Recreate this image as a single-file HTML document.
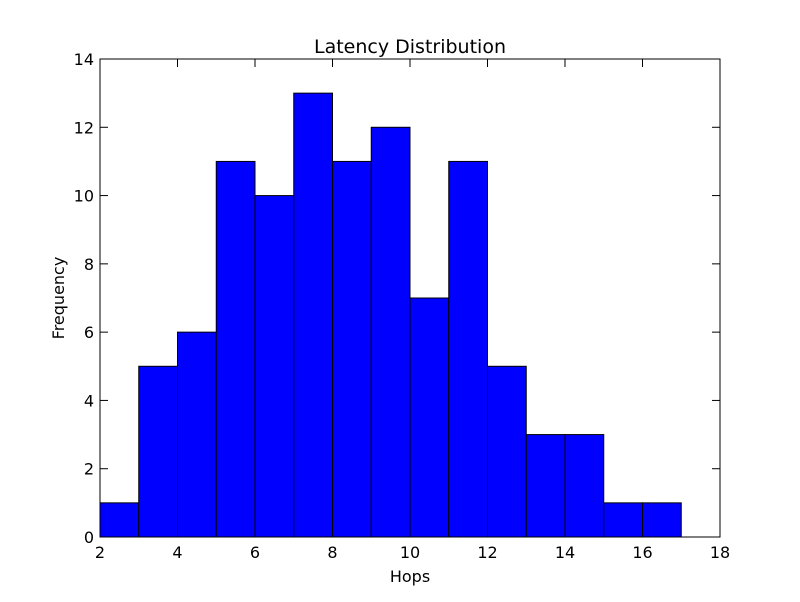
<!DOCTYPE html>
<html><head><meta charset="utf-8"><style>
body{margin:0;background:#fff}
svg text{font-family:"DejaVu Sans","Liberation Sans",sans-serif;fill:#000}
</style></head><body>
<svg id="chart" width="800" height="597" xmlns="http://www.w3.org/2000/svg">
<rect width="800" height="597" fill="#fff"/>
<g id="bars"></g>
<g id="ticks"></g>
<rect x="100" y="59" width="620" height="478" fill="none" stroke="#000" stroke-width="1"/>
<text x="410" y="53" font-size="19" text-anchor="middle">Latency Distribution</text>
<text x="410" y="582" font-size="16" text-anchor="middle">Hops</text>
<text x="64" y="298" font-size="16" text-anchor="middle" transform="rotate(-90 64 298)">Frequency</text>
</svg>
<script>
const binStarts=[2,3,4,5,6,7,8,9,10,11,12,13,14,15,16];
const counts=[1,5,6,11,10,13,11,12,7,11,5,3,3,1,1];
const binWidth=1;
const xTicks=[2,4,6,8,10,12,14,16,18];
const yTicks=[0,2,4,6,8,10,12,14];
const L=100,R=720,T=59,B=537,xmin=2,xmax=18,ymin=0,ymax=14;
const sx=v=>L+(v-xmin)/(xmax-xmin)*(R-L);
const sy=v=>B-(v-ymin)/(ymax-ymin)*(B-T);
const NS="http://www.w3.org/2000/svg";
const bars=document.getElementById('bars'),ticks=document.getElementById('ticks');
binStarts.forEach((s,i)=>{
  const r=document.createElementNS(NS,'rect');
  r.setAttribute('x',sx(s));r.setAttribute('width',sx(s+binWidth)-sx(s));
  r.setAttribute('y',sy(counts[i]));r.setAttribute('height',sy(0)-sy(counts[i]));
  r.setAttribute('fill','#0000ff');r.setAttribute('stroke','#000');r.setAttribute('stroke-width','1');
  
  
  bars.appendChild(r);
});
function line(x1,y1,x2,y2){const l=document.createElementNS(NS,'line');l.setAttribute('x1',x1);l.setAttribute('y1',y1);l.setAttribute('x2',x2);l.setAttribute('y2',y2);l.setAttribute('stroke','#000');


ticks.appendChild(l);}
function text(x,y,s,anchor){const t=document.createElementNS(NS,'text');t.setAttribute('x',x);t.setAttribute('y',y);t.setAttribute('font-size','16');t.setAttribute('text-anchor',anchor);t.textContent=s;


ticks.appendChild(t);}
xTicks.forEach(v=>{const x=sx(v);line(x,B,x,B-8);line(x,T,x,T+8);text(x,B+21,String(v),'middle');});
yTicks.forEach(v=>{const y=sy(v);line(L,y,L+8,y);line(R,y,R-8,y);text(L-6,y+6,String(v),'end');});
</script>
</body></html>
